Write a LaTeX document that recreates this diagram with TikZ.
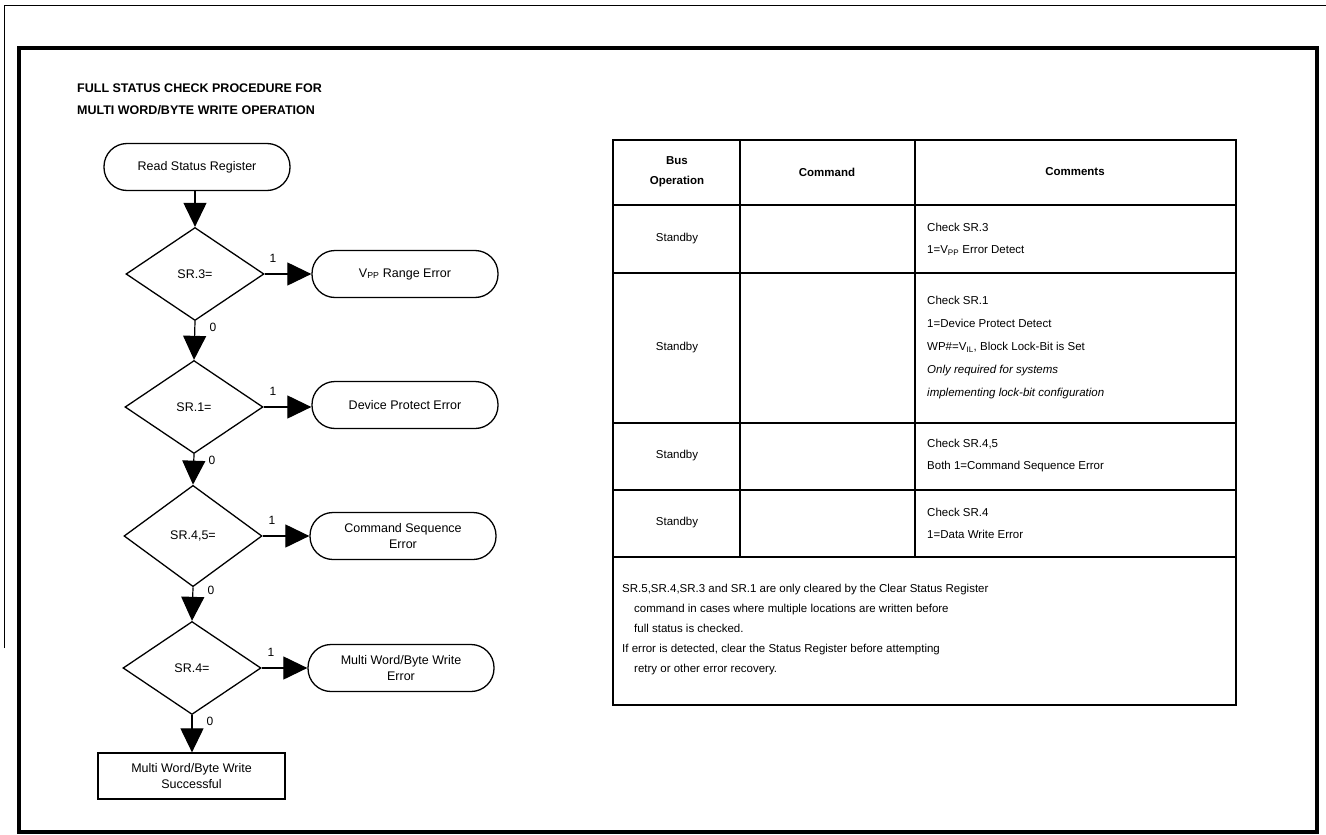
\documentclass[tikz,border=0pt]{standalone}
\usepackage{fontspec}
\setmainfont{Liberation Sans}
\usetikzlibrary{shapes.geometric,arrows.meta}
\begin{document}
\begin{tikzpicture}[x=1pt,y=-1pt,
  every node/.style={inner sep=0pt, font=\fontsize{12.5}{15}\selectfont},
  term/.style={draw, line width=1.3pt, rounded corners=23pt, minimum width=186pt, minimum height=47pt, align=center, font=\fontsize{12.5}{16}\selectfont},
  endbox/.style={draw, line width=1.3pt, minimum width=187pt, minimum height=46pt, align=center, font=\fontsize{12.5}{16}\selectfont},
  dec/.style={draw, diamond, aspect=0.5, line width=1.3pt, minimum width=138pt, minimum height=93pt},
  flow/.style={line width=1.2pt, -{Triangle[length=24pt,width=23pt]}},
  lbl/.style={font=\fontsize{12}{14}\selectfont},
  tline/.style={line width=1.1pt},
  ttext/.style={font=\fontsize{11.5}{22}\selectfont, align=left, anchor=west},
  ttextb/.style={font=\fontsize{11.5}{23}\selectfont, align=left, anchor=west},
  ftext/.style={font=\fontsize{11.5}{20}\selectfont, anchor=base west},
  tcenter/.style={font=\fontsize{11.5}{21}\selectfont, align=center},
  thead/.style={font=\bfseries\fontsize{11.5}{20}\selectfont, align=center},
  titletext/.style={font=\bfseries\fontsize{12.5}{15}\selectfont, anchor=base west},
]
\useasboundingbox (0,0) rectangle (1326,835);
% frames
\draw[line width=1pt] (4,648) -- (4,5) -- (1326,5);
\draw[line width=4pt] (19,48) rectangle (1317,832);

% title
\node[titletext] (title1) at (77,92.5) {FULL STATUS CHECK PROCEDURE FOR};
\node[titletext] (title2) at (77,114.5) {MULTI WORD/BYTE WRITE OPERATION};

% flowchart
\node[term] (rs) at (197,167) {Read Status Register};
\node[dec] (d1) at (195,274) {SR.3=};
\node[term] (e1) at (405,274) {V\textsubscript{PP} Range Error};
\node[dec] (d2) at (194,407) {SR.1=};
\node[term] (e2) at (405,405) {Device Protect Error};
\node[dec] (d3) at (193,536) {SR.4,5=};
\node[term] (e3) at (403,536) {Command Sequence\\Error};
\node[dec] (d4) at (192,668) {SR.4=};
\node[term] (e4) at (401,668) {Multi Word/Byte Write\\Error};
\node[endbox] (ok) at (191.5,776) {Multi Word/Byte Write\\Successful};

\draw[flow] (rs.south -| d1.north) -- (d1.north);
\draw[flow] (d1.south) -- (d2.north);
\draw[flow] (d2.south) -- (d3.north);
\draw[flow] (d3.south) -- (d4.north);
\draw[flow] (d4.south) -- (ok.north -| d4.south);
\draw[flow] (d1.east) -- (e1.west |- d1.east);
\draw[flow] (d2.east) -- (e2.west |- d2.east);
\draw[flow] (d3.east) -- (e3.west |- d3.east);
\draw[flow] (d4.east) -- (e4.west |- d4.east);

\node[lbl] (l1a) at (273,258) {1};
\node[lbl] (l1b) at (213,327) {0};
\node[lbl] (l2a) at (273,391) {1};
\node[lbl] (l2b) at (212,460) {0};
\node[lbl] (l3a) at (272,520) {1};
\node[lbl] (l3b) at (211,590) {0};
\node[lbl] (l4a) at (271,652) {1};
\node[lbl] (l4b) at (210,721) {0};

% table
\draw[tline] (613,140) rectangle (1236,705);
\draw[tline] (613,205) -- (1236,205);
\draw[tline] (613,273) -- (1236,273);
\draw[tline] (613,423) -- (1236,423);
\draw[tline] (613,490) -- (1236,490);
\draw[tline] (613,557) -- (1236,557);
\draw[tline] (740,140) -- (740,557);
\draw[tline] (915,140) -- (915,557);

\node[thead] (h1) at (677,172) {Bus\\Operation};
\node[thead] (h2) at (827,172) {Command};
\node[thead] (h3) at (1075,172) {Comments};

\node[tcenter] (s1) at (677,239) {Standby};
\node[ttext] (c1) at (927,239) {Check SR.3\\1=V\textsubscript{PP} Error Detect};
\node[tcenter] (s2) at (677,348) {Standby};
\node[ttextb] (c2) at (927,348) {Check SR.1\\1=Device Protect Detect\\WP\#=V\textsubscript{IL}, Block Lock-Bit is Set\\\textit{Only required for systems}\\\textit{implementing lock-bit configuration}};
\node[tcenter] (s3) at (677,456) {Standby};
\node[ttext] (c3) at (927,456) {Check SR.4,5\\Both 1=Command Sequence Error};
\node[tcenter] (s4) at (677,523) {Standby};
\node[ttext] (c4) at (927,523) {Check SR.4\\1=Data Write Error};

\node[ftext] (f1) at (622,592) {SR.5,SR.4,SR.3 and SR.1 are only cleared by the Clear Status Register};
\node[ftext] (f2) at (634,612) {command in cases where multiple locations are written before};
\node[ftext] (f3) at (634,632) {full status is checked.};
\node[ftext] (f4) at (622,652) {If error is detected, clear the Status Register before attempting};
\node[ftext] (f5) at (634,672) {retry or other error recovery.};
\end{tikzpicture}
\end{document}
